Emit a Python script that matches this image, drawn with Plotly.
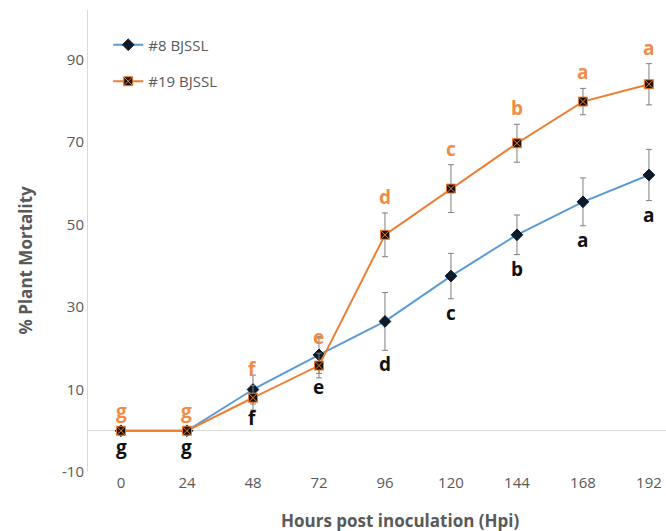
import plotly.graph_objects as go

# Hours post inoculation
hours = [0, 24, 48, 72, 96, 120, 144, 168, 192]

# % plant mortality, mean and error per time point
mort_8 = [0, 0, 10, 18.4, 26.5, 37.5, 47.5, 55.5, 62]
err_8 = [0, 0, 3.5, 4.5, 7, 5.5, 4.8, 5.8, 6.2]
letters_8 = ["g", "g", "f", "e", "d", "c", "b", "a", "a"]

mort_19 = [0, 0, 8, 15.8, 47.5, 58.7, 69.7, 79.8, 84]
err_19 = [0, 0, 3, 3, 5.3, 5.8, 4.6, 3.2, 5]
letters_19 = ["g", "g", "f", "e", "d", "c", "b", "a", "a"]

y_ticks = [-10, 10, 30, 50, 70, 90]

BLUE = "#5B9BD5"
ORANGE = "#ED7D31"
LETTER_ORANGE = "#F08C46"
GREY = "#595959"
FONT = "Liberation Sans Narrow, Open Sans, sans-serif"

fig = go.Figure()

fig.add_trace(go.Scatter(
    x=hours, y=mort_8, name="#8 BJSSL", mode="lines+markers",
    legendgroup="s8",
    line=dict(color=BLUE, width=2),
    marker=dict(symbol="diamond", size=9, color="#0d1a2b",
                line=dict(color="#0d1a2b", width=1)),
    error_y=dict(type="data", array=err_8, color="#7f7f7f",
                 thickness=1, width=3),
))

fig.add_trace(go.Scatter(
    x=hours, y=mort_19, name="#19 BJSSL", mode="lines+markers",
    legendgroup="s19",
    line=dict(color=ORANGE, width=2),
    marker=dict(symbol="square-x", size=9, color="#1a1208",
                line=dict(color=ORANGE, width=1)),
    error_y=dict(type="data", array=err_19, color="#7f7f7f",
                 thickness=1, width=3),
))

# Significance letters: #19 above its error bar, #8 below its error bar
for h, v, e, t in zip(hours, mort_19, err_19, letters_19):
    fig.add_annotation(x=h, y=v + e, text="<b>%s</b>" % t, showarrow=False,
                       yshift=16 if e else 20, yanchor="middle",
                       font=dict(family=FONT, size=19, color=LETTER_ORANGE))
for h, v, e, t in zip(hours, mort_8, err_8, letters_8):
    fig.add_annotation(x=h, y=v - e, text="<b>%s</b>" % t, showarrow=False,
                       yshift=-14 if e else -16, yanchor="middle",
                       font=dict(family=FONT, size=19, color="#111111"))

# Axis titles
fig.add_annotation(text="<b>% Plant Mortality</b>", textangle=-90,
                   xref="paper", yref="paper", x=-0.109, y=0.46,
                   xanchor="center", yanchor="middle", showarrow=False,
                   font=dict(family=FONT, size=17, color=GREY))
fig.add_annotation(text="<b>Hours post inoculation (Hpi)</b>",
                   xref="paper", yref="paper", x=0.54, y=-0.104,
                   xanchor="center", yanchor="middle", showarrow=False,
                   font=dict(family=FONT, size=17, color=GREY))

fig.update_layout(
    width=666, height=531,
    margin=dict(l=88, r=0, t=10, b=59),
    paper_bgcolor="white", plot_bgcolor="white",
    font=dict(family=FONT, color=GREY, size=15),
    showlegend=True,
    legend=dict(x=0.035, y=0.96, xanchor="left", yanchor="top",
                bgcolor="rgba(0,0,0,0)", font=dict(size=15, color=GREY),
                itemwidth=30, tracegroupgap=14),
    xaxis=dict(
        range=[-12, 198.2], tickvals=hours, ticktext=[str(h) for h in hours],
        showgrid=False, zeroline=False, showline=False, ticks="",
        tickfont=dict(size=15, color=GREY),
    ),
    yaxis=dict(
        range=[-10, 102], tickvals=y_ticks, ticktext=[str(v) for v in y_ticks],
        showgrid=False, zeroline=True, zerolinecolor="#d9d9d9",
        zerolinewidth=1, showline=True, linecolor="#d9d9d9", linewidth=1,
        ticks="", tickfont=dict(size=15, color=GREY),
    ),
)

fig.write_html("out.html")
